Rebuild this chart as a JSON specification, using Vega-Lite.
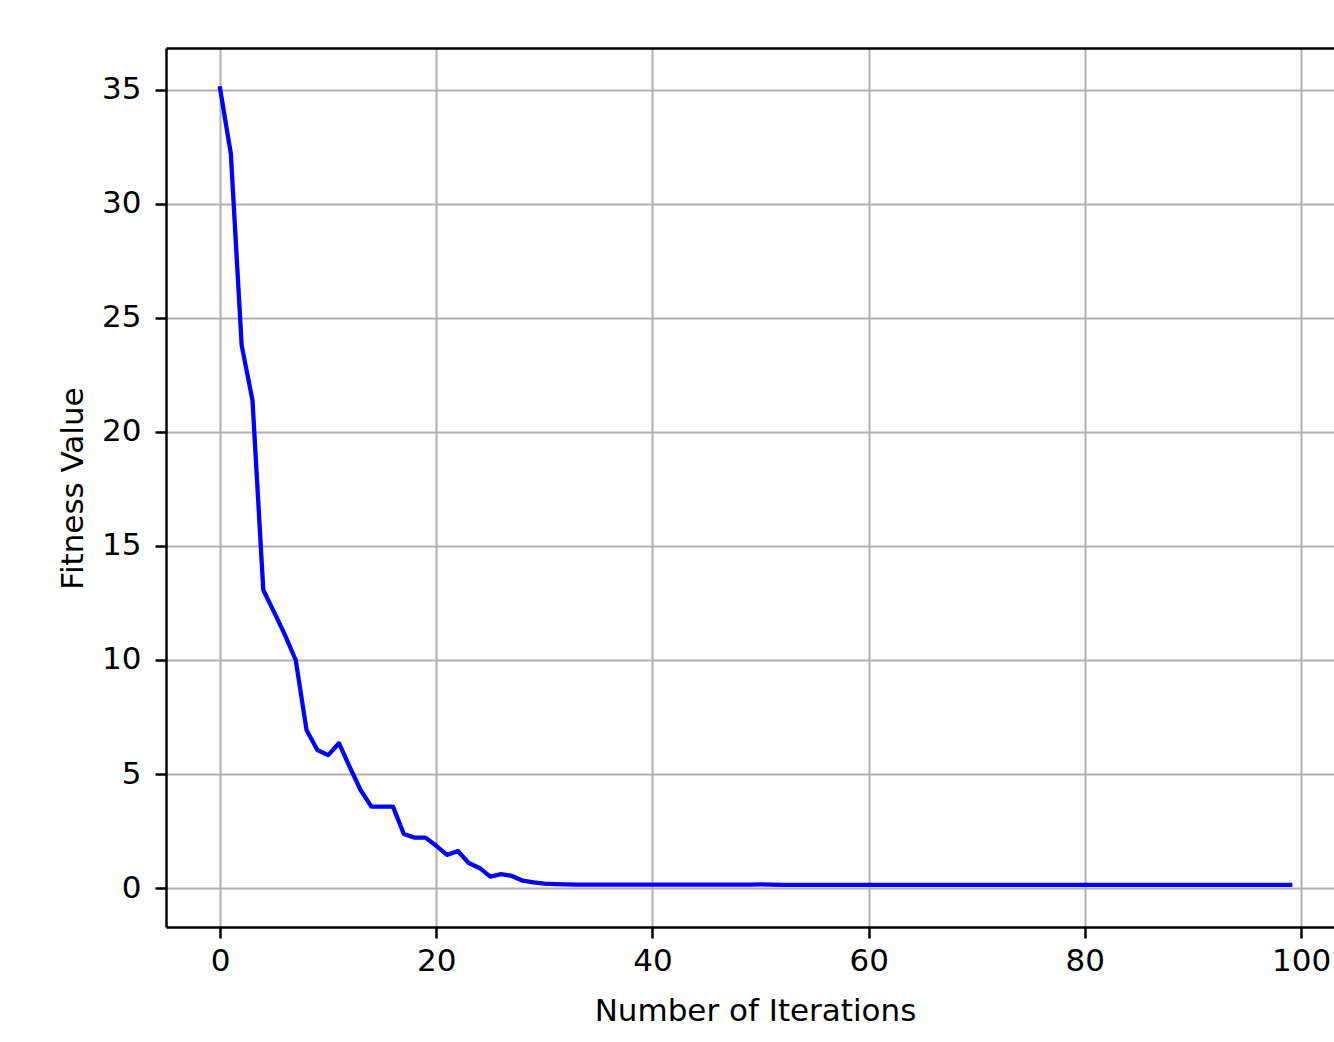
{
  "$schema": "https://vega.github.io/schema/vega-lite/v6.json",
  "autosize": {"type": "none"},
  "padding": {"left": 166, "top": 48, "right": 0, "bottom": 115},
  "width": 1168,
  "height": 879,
  "background": "white",
  "config": {
    "view": {"stroke": null},
    "font": "DejaVu Sans"
  },
  "data": {
    "values": [
      {"iter": 0, "fitness": 35.07}, {"iter": 1, "fitness": 32.2}, {"iter": 2, "fitness": 23.8},
      {"iter": 3, "fitness": 21.4}, {"iter": 4, "fitness": 13.07}, {"iter": 5, "fitness": 12.1},
      {"iter": 6, "fitness": 11.1}, {"iter": 7, "fitness": 10.0}, {"iter": 8, "fitness": 6.93},
      {"iter": 9, "fitness": 6.05}, {"iter": 10, "fitness": 5.83}, {"iter": 11, "fitness": 6.35},
      {"iter": 12, "fitness": 5.3}, {"iter": 13, "fitness": 4.3}, {"iter": 14, "fitness": 3.57},
      {"iter": 15, "fitness": 3.57}, {"iter": 16, "fitness": 3.57}, {"iter": 17, "fitness": 2.37},
      {"iter": 18, "fitness": 2.21}, {"iter": 19, "fitness": 2.21}, {"iter": 20, "fitness": 1.85},
      {"iter": 21, "fitness": 1.45}, {"iter": 22, "fitness": 1.62}, {"iter": 23, "fitness": 1.1},
      {"iter": 24, "fitness": 0.88}, {"iter": 25, "fitness": 0.5}, {"iter": 26, "fitness": 0.61},
      {"iter": 27, "fitness": 0.53}, {"iter": 28, "fitness": 0.32}, {"iter": 29, "fitness": 0.25},
      {"iter": 30, "fitness": 0.19}, {"iter": 31, "fitness": 0.17}, {"iter": 32, "fitness": 0.16},
      {"iter": 33, "fitness": 0.15}, {"iter": 34, "fitness": 0.15}, {"iter": 35, "fitness": 0.15},
      {"iter": 36, "fitness": 0.15}, {"iter": 37, "fitness": 0.15}, {"iter": 38, "fitness": 0.15},
      {"iter": 39, "fitness": 0.15}, {"iter": 40, "fitness": 0.15}, {"iter": 41, "fitness": 0.15},
      {"iter": 42, "fitness": 0.15}, {"iter": 43, "fitness": 0.15}, {"iter": 44, "fitness": 0.15},
      {"iter": 45, "fitness": 0.15}, {"iter": 46, "fitness": 0.15}, {"iter": 47, "fitness": 0.15},
      {"iter": 48, "fitness": 0.15}, {"iter": 49, "fitness": 0.15}, {"iter": 50, "fitness": 0.16},
      {"iter": 51, "fitness": 0.15}, {"iter": 52, "fitness": 0.14}, {"iter": 53, "fitness": 0.14},
      {"iter": 54, "fitness": 0.14}, {"iter": 55, "fitness": 0.14}, {"iter": 56, "fitness": 0.14},
      {"iter": 57, "fitness": 0.14}, {"iter": 58, "fitness": 0.14}, {"iter": 59, "fitness": 0.14},
      {"iter": 60, "fitness": 0.14}, {"iter": 61, "fitness": 0.14}, {"iter": 62, "fitness": 0.14},
      {"iter": 63, "fitness": 0.14}, {"iter": 64, "fitness": 0.14}, {"iter": 65, "fitness": 0.14},
      {"iter": 66, "fitness": 0.14}, {"iter": 67, "fitness": 0.14}, {"iter": 68, "fitness": 0.14},
      {"iter": 69, "fitness": 0.14}, {"iter": 70, "fitness": 0.14}, {"iter": 71, "fitness": 0.14},
      {"iter": 72, "fitness": 0.14}, {"iter": 73, "fitness": 0.14}, {"iter": 74, "fitness": 0.14},
      {"iter": 75, "fitness": 0.14}, {"iter": 76, "fitness": 0.14}, {"iter": 77, "fitness": 0.14},
      {"iter": 78, "fitness": 0.14}, {"iter": 79, "fitness": 0.14}, {"iter": 80, "fitness": 0.14},
      {"iter": 81, "fitness": 0.14}, {"iter": 82, "fitness": 0.14}, {"iter": 83, "fitness": 0.14},
      {"iter": 84, "fitness": 0.14}, {"iter": 85, "fitness": 0.14}, {"iter": 86, "fitness": 0.14},
      {"iter": 87, "fitness": 0.14}, {"iter": 88, "fitness": 0.14}, {"iter": 89, "fitness": 0.14},
      {"iter": 90, "fitness": 0.14}, {"iter": 91, "fitness": 0.14}, {"iter": 92, "fitness": 0.14},
      {"iter": 93, "fitness": 0.14}, {"iter": 94, "fitness": 0.14}, {"iter": 95, "fitness": 0.14},
      {"iter": 96, "fitness": 0.14}, {"iter": 97, "fitness": 0.14}, {"iter": 98, "fitness": 0.14},
      {"iter": 99, "fitness": 0.14}
    ]
  },
  "resolve": {"axis": {"x": "independent"}},
  "layer": [
    {
      "mark": {"type": "line", "color": "#0000ff", "strokeWidth": 4.3, "strokeJoin": "round", "strokeCap": "square", "clip": true},
      "encoding": {
        "x": {
          "field": "iter",
          "type": "quantitative",
          "scale": {"domain": [-5.0, 103.05], "nice": false, "zero": false},
          "axis": {
            "orient": "bottom",
            "title": "Number of Iterations",
            "values": [0, 20, 40, 60, 80, 100],
            "domain": true,
            "domainColor": "black",
            "domainWidth": 2.5,
            "grid": true,
            "gridColor": "#b0b0b0",
            "gridWidth": 2,
            "gridOpacity": 1,
            "ticks": true,
            "tickColor": "black",
            "tickWidth": 2.5,
            "tickSize": 11,
            "labelFont": "DejaVu Sans",
            "labelFontSize": 31,
            "labelColor": "black",
            "labelPadding": 8,
            "labelFlush": false,
            "labelOverlap": false,
            "titleFont": "DejaVu Sans",
            "titleFontSize": 31,
            "titleFontWeight": "normal",
            "titleColor": "black",
            "titleBaseline": "alphabetic",
            "titleAnchor": "middle",
            "titleX": 589,
            "titleY": 93
          }
        },
        "y": {
          "field": "fitness",
          "type": "quantitative",
          "scale": {"domain": [-1.71, 36.84], "nice": false, "zero": false},
          "axis": {
            "title": "Fitness Value",
            "values": [0, 5, 10, 15, 20, 25, 30, 35],
            "domain": true,
            "domainColor": "black",
            "domainWidth": 2.5,
            "grid": true,
            "gridColor": "#b0b0b0",
            "gridWidth": 2,
            "gridOpacity": 1,
            "ticks": true,
            "tickColor": "black",
            "tickWidth": 2.5,
            "tickSize": 11,
            "labelFont": "DejaVu Sans",
            "labelFontSize": 31,
            "labelColor": "black",
            "labelPadding": 14,
            "labelFlush": false,
            "labelOverlap": false,
            "titleFont": "DejaVu Sans",
            "titleFontSize": 31,
            "titleFontWeight": "normal",
            "titleColor": "black",
            "titleAngle": -90,
            "titleBaseline": "alphabetic",
            "titleAlign": "center",
            "titleX": -84,
            "titleY": 440
          }
        }
      }
    },
    {
      "mark": {"type": "point", "opacity": 0},
      "encoding": {
        "x": {
          "field": "iter",
          "type": "quantitative",
          "scale": {"domain": [-5.0, 103.05], "nice": false, "zero": false},
          "axis": {
            "orient": "top",
            "title": null,
            "domain": true,
            "domainColor": "black",
            "domainWidth": 2.5,
            "grid": false,
            "ticks": false,
            "labels": false
          }
        },
        "y": {"field": "fitness", "type": "quantitative"}
      }
    }
  ]
}
